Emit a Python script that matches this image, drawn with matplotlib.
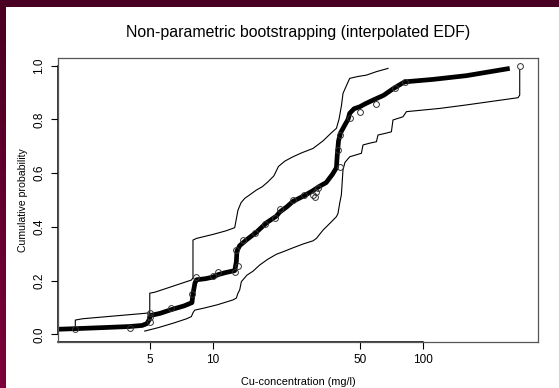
import numpy as np
import matplotlib.pyplot as plt
from matplotlib.colors import LinearSegmentedColormap

# EDF (bootstrap median)
edf_x = [1.7, 2.21, 3.0, 4.01, 4.6, 4.85, 4.95, 5.03, 5.6, 6.34, 7.3, 7.94, 8.03, 8.2,
         8.34, 9.2, 10.0, 10.56, 11.5, 12.69, 12.92, 13.0, 13.4, 14.4, 16.09, 17.96,
         20.04, 20.78, 22.5, 24.04, 27.03, 29.94, 32.0, 34.6, 37.0, 38.7, 39.0, 39.6,
         40.5, 42.5, 43.95, 44.77, 47.0, 49.95, 53.0, 57.81, 65.0, 71.96, 77.0, 81.84,
         111.2, 160.9, 258.8]
edf_y = [0.018, 0.021, 0.025, 0.029, 0.033, 0.04, 0.052, 0.07, 0.078, 0.092, 0.106,
         0.118, 0.15, 0.19, 0.203, 0.207, 0.213, 0.222, 0.23, 0.237, 0.27, 0.31, 0.33,
         0.351, 0.38, 0.415, 0.44, 0.455, 0.475, 0.495, 0.515, 0.535, 0.55, 0.565,
         0.595, 0.62, 0.66, 0.72, 0.75, 0.78, 0.80, 0.823, 0.84, 0.847, 0.858, 0.872,
         0.89, 0.914, 0.928, 0.940, 0.949, 0.963, 0.99]

# upper bootstrap bound
up_x = [2.21, 2.21, 2.4, 4.73, 5.0, 5.0, 5.3, 7.89, 8.03, 8.03, 8.34, 10.0, 11.5,
        12.69, 12.92, 13.15, 13.6, 14.16, 15.0, 16.09, 17.2, 18.28, 19.5, 20.5, 22.0,
        24.04, 26.5, 29.94, 33.4, 36.6, 38.7, 39.8, 40.87, 41.6, 44.0, 44.77, 49.0,
        53.76, 60.0, 68.13]
up_y = [0.021, 0.053, 0.058, 0.078, 0.08, 0.153, 0.157, 0.202, 0.21, 0.351, 0.357,
        0.372, 0.385, 0.397, 0.43, 0.462, 0.49, 0.506, 0.52, 0.537, 0.55, 0.568, 0.59,
        0.625, 0.645, 0.661, 0.676, 0.692, 0.72, 0.75, 0.767, 0.80, 0.85, 0.897, 0.94,
        0.953, 0.96, 0.965, 0.978, 0.99]

# lower bootstrap bound
lo_x = [4.73, 5.5, 6.5, 7.5, 7.89, 8.03, 8.18, 9.0, 10.5, 12.45, 12.92, 13.15, 13.4,
        13.65, 14.5, 15.51, 16.69, 18.28, 20.04, 22.0, 24.04, 27.03, 29.94, 31.07,
        33.42, 36.64, 38.7, 39.38, 40.12, 40.87, 41.59, 42.5, 44.77, 48.0, 50.89,
        51.79, 56.0, 60.0, 61.06, 66.0, 70.71, 71.96, 76.0, 80.33, 83.37, 120.0,
        160.9, 283.5, 288.8, 288.8]
lo_y = [0.012, 0.025, 0.042, 0.058, 0.066, 0.08, 0.09, 0.097, 0.11, 0.128, 0.135,
        0.153, 0.165, 0.196, 0.22, 0.235, 0.258, 0.28, 0.298, 0.31, 0.322, 0.337,
        0.348, 0.357, 0.388, 0.419, 0.438, 0.45, 0.488, 0.52, 0.612, 0.64, 0.661,
        0.668, 0.674, 0.705, 0.712, 0.717, 0.742, 0.748, 0.754, 0.798, 0.804, 0.81,
        0.829, 0.841, 0.854, 0.881, 0.891, 0.985]

# sample points (circles)
pt_x = [2.21, 4.01, 5.0, 5.0, 5.03, 6.34, 7.94, 8.34, 10.0, 10.56, 12.69, 13.15,
        12.92, 13.89, 15.8, 17.63, 19.67, 20.78, 24.04, 27.03, 29.94, 30.5, 31.07,
        31.62, 40.12, 39.38, 40.12, 44.77, 50.33, 59.55, 73.31, 81.84, 288.8]
pt_y = [0.021, 0.022, 0.047, 0.066, 0.080, 0.097, 0.149, 0.212, 0.217, 0.233, 0.233,
        0.254, 0.314, 0.351, 0.376, 0.411, 0.432, 0.465, 0.5, 0.519, 0.519, 0.512,
        0.531, 0.544, 0.624, 0.686, 0.742, 0.804, 0.829, 0.857, 0.916, 0.940, 0.999]

x_ticks = [5, 10, 50, 100]
y_ticks = [0.0, 0.2, 0.4, 0.6, 0.8, 1.0]

plt.rcParams["font.family"] = ["Liberation Sans", "DejaVu Sans"]

fig = plt.figure(figsize=(5.59, 3.88), dpi=100)
fig.patch.set_facecolor("white")

# maroon frame on top and left
frame = fig.add_axes([0, 0, 1, 1], zorder=-1)
frame.set_axis_off()
frame.set_xlim(0, 559)
frame.set_ylim(388, 0)
cmap = LinearSegmentedColormap.from_list("maroon", ["#4a0022", "#7c003a"])
frame.imshow(np.linspace(0, 1, 100).reshape(-1, 1), cmap=cmap, aspect="auto",
             extent=[0, 6, 388, 0])
frame.fill_between([0, 559], 0, 7, color="#4a0022", lw=0)

ax = fig.add_axes([0.1032, 0.1193, 0.8587, 0.7304])
ax.set_xscale("log")
ax.set_xlim(1.822, 351.7)
ax.set_ylim(-0.0276, 1.0276)

ax.plot(up_x, up_y, color="black", lw=0.8)
ax.plot(lo_x, lo_y, color="black", lw=0.8)
ax.plot(edf_x, edf_y, color="black", lw=3.4, solid_capstyle="butt")
ax.plot(pt_x, pt_y, "o", mfc="none", mec="#333333", mew=0.7, ms=4.2)

for s in ax.spines.values():
    s.set_color("#555555")
    s.set_linewidth(0.9)

# R style axis lines
ax.plot([1.822, 100], [-0.0276, -0.0276], color="black", lw=1.1, clip_on=False)
ax.plot([1.822, 1.822], [0.0, 1.0], color="black", lw=1.1, clip_on=False)

ax.set_xticks(x_ticks)
ax.set_xticklabels([str(t) for t in x_ticks])
ax.xaxis.set_minor_locator(plt.NullLocator())
ax.set_yticks(y_ticks)
ax.set_yticklabels([f"{t:.1f}" for t in y_ticks], rotation=90, va="center")
ax.tick_params(axis="both", direction="out", length=5, width=0.8, labelsize=8.5,
               pad=4, colors="black")

fig.text(0.533, 0.915, "Non-parametric bootstrapping (interpolated EDF)",
         ha="center", va="center", fontsize=11.4)
fig.text(0.533, 0.016, "Cu-concentration (mg/l)", ha="center", va="center",
         fontsize=7.8)
fig.text(0.042, 0.485, "Cumulative probability", ha="center", va="center",
         rotation=90, fontsize=7.6)

plt.savefig("out.png", dpi=100)
